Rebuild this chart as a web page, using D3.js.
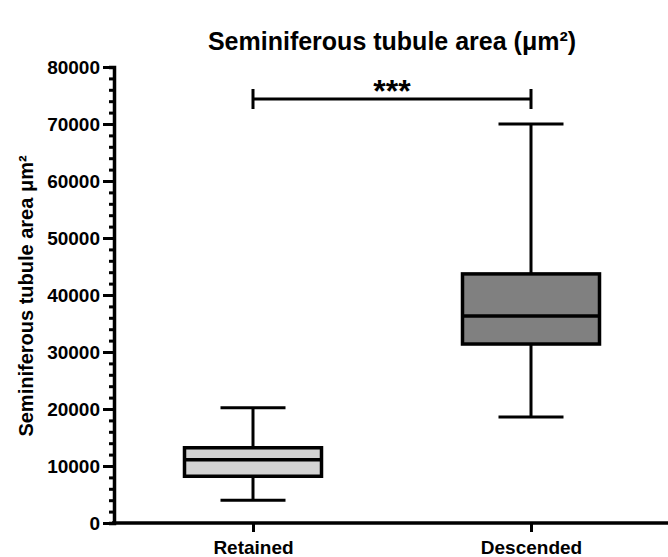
<!DOCTYPE html>
<html>
<head>
<meta charset="utf-8">
<script src="https://cdn.jsdelivr.net/npm/d3@7"></script>
<style>
  body { margin: 0; background: #fff; }
  text { font-family: "Liberation Sans", Arial, sans-serif; font-weight: bold; fill: #000; }
</style>
</head>
<body>
<script>
// Chart data
const categories = ["Retained", "Descended"];
const whiskerLow = [4000, 18600];
const q1 = [8200, 31400];
const median = [11100, 36300];
const q3 = [13200, 43700];
const whiskerHigh = [20200, 70000];
const fills = ["#d3d3d3", "#808080"];
const yTicks = [0, 10000, 20000, 30000, 40000, 50000, 60000, 70000, 80000];
const sigLabel = "***";
const sigValue = 74400;

const width = 668, height = 557;
const svg = d3.select("body").append("svg")
    .attr("width", width)
    .attr("height", height);

// Scales
const x = d3.scalePoint().domain(categories).range([114, 670]).padding(0.5);
const y = d3.scaleLinear().domain([0, 80000]).range([523, 67]);

const boxW = 137, capW = 65;

// Y axis with minor ticks
const yAxis = svg.append("g").attr("transform", "translate(114,0)");
yAxis.call(d3.axisLeft(y).tickValues(d3.range(0, 80001, 2000)).tickSize(5).tickFormat(""))
    .call(g => g.selectAll("line").attr("stroke-width", 3));
yAxis.append("g")
    .call(d3.axisLeft(y).tickValues(yTicks).tickSize(11).tickPadding(3).tickFormat(d3.format("d")))
    .call(g => g.select(".domain").remove())
    .call(g => g.selectAll("line").attr("stroke-width", 3))
    .call(g => g.selectAll("text").style("font-size", "19px").attr("fill", "#000"));
yAxis.selectAll(".domain").attr("stroke-width", 3.5);

// X axis
const xAxis = svg.append("g").attr("transform", "translate(0,523)");
xAxis.call(d3.axisBottom(x).tickSize(9).tickPadding(9))
    .call(g => g.select(".domain").attr("d", "M112,0H668").attr("stroke-width", 3.5))
    .call(g => g.selectAll("line").attr("stroke-width", 3))
    .call(g => g.selectAll("text").style("font-size", "19px").attr("fill", "#000"));

// Box plots
const boxes = svg.append("g").selectAll("g")
    .data(categories)
    .join("g");

boxes.append("line")
    .attr("x1", d => x(d)).attr("x2", d => x(d))
    .attr("y1", (d, i) => y(whiskerLow[i])).attr("y2", (d, i) => y(whiskerHigh[i]))
    .attr("stroke", "#000").attr("stroke-width", 3);

boxes.append("line")
    .attr("x1", d => x(d) - capW / 2).attr("x2", d => x(d) + capW / 2)
    .attr("y1", (d, i) => y(whiskerLow[i])).attr("y2", (d, i) => y(whiskerLow[i]))
    .attr("stroke", "#000").attr("stroke-width", 3);

boxes.append("line")
    .attr("x1", d => x(d) - capW / 2).attr("x2", d => x(d) + capW / 2)
    .attr("y1", (d, i) => y(whiskerHigh[i])).attr("y2", (d, i) => y(whiskerHigh[i]))
    .attr("stroke", "#000").attr("stroke-width", 3);

boxes.append("rect")
    .attr("x", d => x(d) - boxW / 2)
    .attr("width", boxW)
    .attr("y", (d, i) => y(q3[i]))
    .attr("height", (d, i) => y(q1[i]) - y(q3[i]))
    .attr("fill", (d, i) => fills[i])
    .attr("stroke", "#000").attr("stroke-width", 3.5);

boxes.append("line")
    .attr("x1", d => x(d) - boxW / 2).attr("x2", d => x(d) + boxW / 2)
    .attr("y1", (d, i) => y(median[i])).attr("y2", (d, i) => y(median[i]))
    .attr("stroke", "#000").attr("stroke-width", 3.5);

// Significance bracket
const sy = y(sigValue);
const sx1 = x(categories[0]), sx2 = x(categories[1]);
svg.append("path")
    .attr("d", `M${sx1},${sy - 10}V${sy + 10}M${sx1},${sy}H${sx2}M${sx2},${sy - 10}V${sy + 10}`)
    .attr("fill", "none").attr("stroke", "#000").attr("stroke-width", 3);
svg.append("text")
    .attr("x", (sx1 + sx2) / 2).attr("y", sy + 3)
    .attr("text-anchor", "middle")
    .style("font-size", "32px")
    .text(sigLabel);

// Title
svg.append("text")
    .attr("x", 392).attr("y", 50)
    .attr("text-anchor", "middle")
    .style("font-size", "25px")
    .text("Seminiferous tubule area (μm²)");

// Y label
svg.append("text")
    .attr("transform", "translate(33,296) rotate(-90)")
    .attr("text-anchor", "middle")
    .style("font-size", "20px")
    .text("Seminiferous tubule area μm²");
</script>
</body>
</html>
